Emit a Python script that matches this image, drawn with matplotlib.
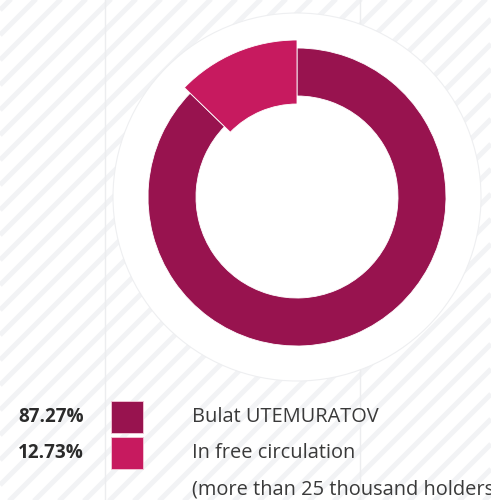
import numpy as np
import matplotlib.pyplot as plt
from matplotlib.patches import Circle, Rectangle

# shareholder structure
labels = ["In free circulation", "Bulat UTEMURATOV"]
shares = [12.73, 87.27]
colors = ["#C71A5F", "#98134F"]
note = "(more than 25 thousand holders"

W, H = 491, 500
CX, CY = 297, 303          # donut centre (pixels, y up)
R_OUT, RING = 149, 48      # ring radius and thickness
POP = 8                    # highlighted slice grows this much both ways

plt.rcParams["font.family"] = ["Open Sans", "DejaVu Sans"]

fig = plt.figure(figsize=(W / 100, H / 100), dpi=100)
ax = fig.add_axes([0, 0, 1, 1])

# diagonal hatching in the background
stripe = "#F2F3F5"
for c in range(10 - 525, W + H + 50, 25):
    xs = np.array([0, W])
    ax.plot(xs, xs + H - c, color=stripe, lw=3.6, solid_capstyle="butt", zorder=0)
for gx in (105, 360):
    ax.axvline(gx, color="#ECEDEF", lw=1.0, zorder=0.5)

ax.add_patch(Circle((CX, CY), 184, facecolor="white", edgecolor="#EEEFF1", lw=0.8, zorder=1))

wedges, _ = ax.pie(shares, colors=colors, startangle=90, counterclock=True,
                   center=(CX, CY), radius=R_OUT,
                   wedgeprops=dict(width=RING, edgecolor="white", linewidth=0.6),
                   frame=True)
for w in wedges:
    w.set_zorder(2)
wedges[0].set_radius(R_OUT + POP)
wedges[0].set_width(RING + 2 * POP)
wedges[0].set_zorder(3)
ax.set_xlim(0, W)
ax.set_ylim(0, H)
ax.axis("off")

# legend rows: largest holder first
text_color = "#2B2B2B"
rows = list(zip(shares[::-1], colors[::-1], labels[::-1]))
y0 = H - 417
for i, (val, col, lab) in enumerate(rows):
    y = y0 - 36 * i
    ax.text(84, y, f"{val:.2f}%", ha="right", va="center", fontsize=13.6,
            fontweight="bold", color=text_color)
    ax.add_patch(Rectangle((111, y - 16), 32, 32, facecolor=col,
                           edgecolor="#F3C9D9", lw=0.6))
    ax.text(192, y, lab, ha="left", va="center", fontsize=14.4, color="#3A3A3A")
ax.text(192, y0 - 72, note, ha="left", va="center", fontsize=14.4, color="#3A3A3A")

fig.savefig("out.png", dpi=100)
